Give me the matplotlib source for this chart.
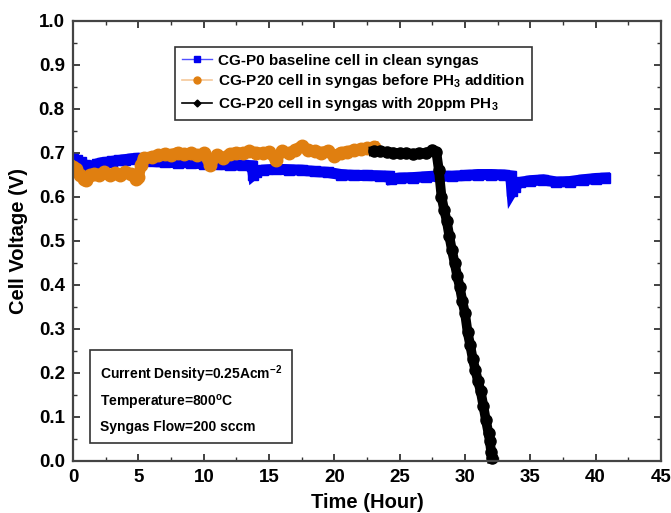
import matplotlib
matplotlib.use("Agg")
import matplotlib.pyplot as plt
from matplotlib.lines import Line2D
from matplotlib.ticker import MultipleLocator

plt.rcParams['font.family'] = ['Liberation Sans', 'DejaVu Sans']
plt.rcParams['font.weight'] = 'bold'
plt.rcParams['mathtext.fontset'] = 'custom'
plt.rcParams['mathtext.rm'] = 'Liberation Sans:bold'
plt.rcParams['mathtext.bf'] = 'Liberation Sans:bold'
plt.rcParams['mathtext.it'] = 'Liberation Sans:bold'

# CG-P0 baseline cell in clean syngas
t_p0 = [0.0, 0.3, 0.6, 0.9, 1.2, 1.5, 1.8, 2.2, 2.6, 3.0, 3.5, 4.0, 4.5, 5.0,
        5.5, 6.0, 7.0, 8.0, 9.0, 10.0, 11.0, 12.0, 13.0, 13.7, 13.8, 14.0,
        14.5, 15.5, 16.5, 17.5, 18.5, 19.5, 20.5, 21.5, 22.5, 23.5, 24.2,
        24.3, 25.0, 26.0, 27.0, 28.0, 29.0, 30.0, 31.0, 32.0, 33.0, 33.5,
        33.6, 33.8, 34.2, 35.0, 36.0, 37.0, 38.0, 39.0, 40.0, 40.7]
v_p0 = [0.685, 0.683, 0.678, 0.672, 0.668, 0.670, 0.674, 0.677, 0.678, 0.680,
        0.682, 0.684, 0.686, 0.687, 0.684, 0.680, 0.678, 0.677, 0.677, 0.674,
        0.673, 0.672, 0.671, 0.670, 0.650, 0.655, 0.660, 0.662, 0.661, 0.660,
        0.657, 0.655, 0.650, 0.648, 0.648, 0.647, 0.646, 0.639, 0.642, 0.643,
        0.645, 0.647, 0.646, 0.648, 0.650, 0.650, 0.649, 0.647, 0.612, 0.622,
        0.632, 0.636, 0.638, 0.633, 0.634, 0.638, 0.641, 0.642]

# CG-P20 cell before PH3 addition
t_before = [0.0, 0.2, 0.5, 0.8, 1.0, 1.3, 1.6, 2.0, 2.4, 2.8, 3.2, 3.6, 4.0,
            4.4, 4.8, 5.0, 5.2, 5.4, 6.0, 6.5, 7.0, 7.5, 8.0, 8.5, 9.0, 9.5,
            10.0, 10.5, 11.0, 11.5, 12.0, 12.5, 13.0, 13.5, 14.0, 14.5, 15.0,
            15.5, 16.0, 16.5, 17.0, 17.5, 18.0, 18.5, 19.0, 19.5, 20.0, 20.5,
            21.0, 21.5, 22.0, 22.5, 23.0]
v_before = [0.668, 0.662, 0.650, 0.640, 0.638, 0.648, 0.652, 0.650, 0.655,
            0.648, 0.654, 0.650, 0.656, 0.652, 0.640, 0.645, 0.672, 0.688,
            0.690, 0.694, 0.697, 0.695, 0.700, 0.696, 0.699, 0.694, 0.698,
            0.672, 0.694, 0.688, 0.697, 0.700, 0.698, 0.703, 0.700, 0.698,
            0.702, 0.684, 0.704, 0.698, 0.706, 0.715, 0.705, 0.703, 0.700,
            0.704, 0.693, 0.700, 0.702, 0.706, 0.708, 0.710, 0.712]

# CG-P20 cell with 20ppm PH3
t_ph3 = [23.0, 23.5, 24.0, 24.5, 25.0, 25.5, 26.0, 26.5, 27.0, 27.5, 27.8,
         28.0, 28.2, 28.4, 28.6, 28.8, 29.0, 29.2, 29.4, 29.6, 29.8, 30.0,
         30.2, 30.4, 30.6, 30.8, 31.0, 31.2, 31.4, 31.6, 31.8, 31.9, 32.0,
         32.05]
v_ph3 = [0.703, 0.704, 0.701, 0.700, 0.698, 0.699, 0.697, 0.698, 0.699, 0.705,
         0.702, 0.660, 0.600, 0.570, 0.545, 0.510, 0.478, 0.450, 0.420, 0.395,
         0.362, 0.335, 0.292, 0.262, 0.230, 0.205, 0.180, 0.158, 0.125, 0.092,
         0.062, 0.045, 0.020, 0.005]

labels = ['CG-P0 baseline cell in clean syngas',
          'CG-P20 cell in syngas before PH$_3$ addition',
          'CG-P20 cell in syngas with 20ppm PH$_3$']
blue = '#0000F0'
orange = '#E07F10'

fig = plt.figure(figsize=(6.71, 5.13), dpi=100)
ax = fig.add_axes([0.109, 0.102, 0.876, 0.858])

ax.plot(t_p0, v_p0, color=blue, lw=8, marker='s', ms=7, solid_joinstyle='miter')
ax.plot(t_before, v_before, color=orange, lw=8, marker='o', ms=9)
ax.plot(t_ph3, v_ph3, color='black', lw=7, marker='o', ms=8, clip_on=False)

ax.set_xlim(0, 45)
ax.set_ylim(0.0, 1.0)
ax.xaxis.set_major_locator(MultipleLocator(5))
ax.xaxis.set_minor_locator(MultipleLocator(2.5))
ax.yaxis.set_major_locator(MultipleLocator(0.1))
ax.yaxis.set_minor_locator(MultipleLocator(0.05))
ax.tick_params(which='both', direction='in', top=True, right=True,
               color='#333333', labelsize=13.5, pad=6)
ax.tick_params(which='major', length=5, width=1.3)
ax.tick_params(which='minor', length=3, width=1.0)
for s in ax.spines.values():
    s.set_linewidth(1.6)
    s.set_color('#444444')
ax.set_yticklabels(['%.1f' % v for v in ax.get_yticks()])

ax.set_xlabel('Time (Hour)', fontsize=14.5, fontweight='bold', labelpad=5)
ax.set_ylabel('Cell Voltage (V)', fontsize=14.5, fontweight='bold', labelpad=8)

handles = [Line2D([], [], color='#5050FF', lw=1, marker='s', ms=5, mfc=blue, mec=blue),
           Line2D([], [], color='#F5C89A', lw=1.2, marker='o', ms=5, mfc=orange, mec=orange),
           Line2D([], [], color='black', lw=1.2, marker='D', ms=3.5)]
leg = ax.legend(handles, labels, loc='upper left', bbox_to_anchor=(0.173, 0.94),
                borderaxespad=0, fancybox=False, edgecolor='#333333',
                fontsize=11, handlelength=2.0, handletextpad=0.4,
                borderpad=0.45, labelspacing=0.3, framealpha=1)
leg.get_frame().set_linewidth(1.2)

ax.text(0.045, 0.222,
        'Current Density=0.25Acm$^{-2}$\nTemperature=800$^{\\mathrm{o}}$C\nSyngas Flow=200 sccm',
        transform=ax.transAxes, fontsize=10, fontweight='bold', va='top',
        linespacing=1.65,
        bbox=dict(boxstyle='square,pad=0.7', fc='white', ec='#333333', lw=1.2))

fig.savefig('out.png', dpi=100)
